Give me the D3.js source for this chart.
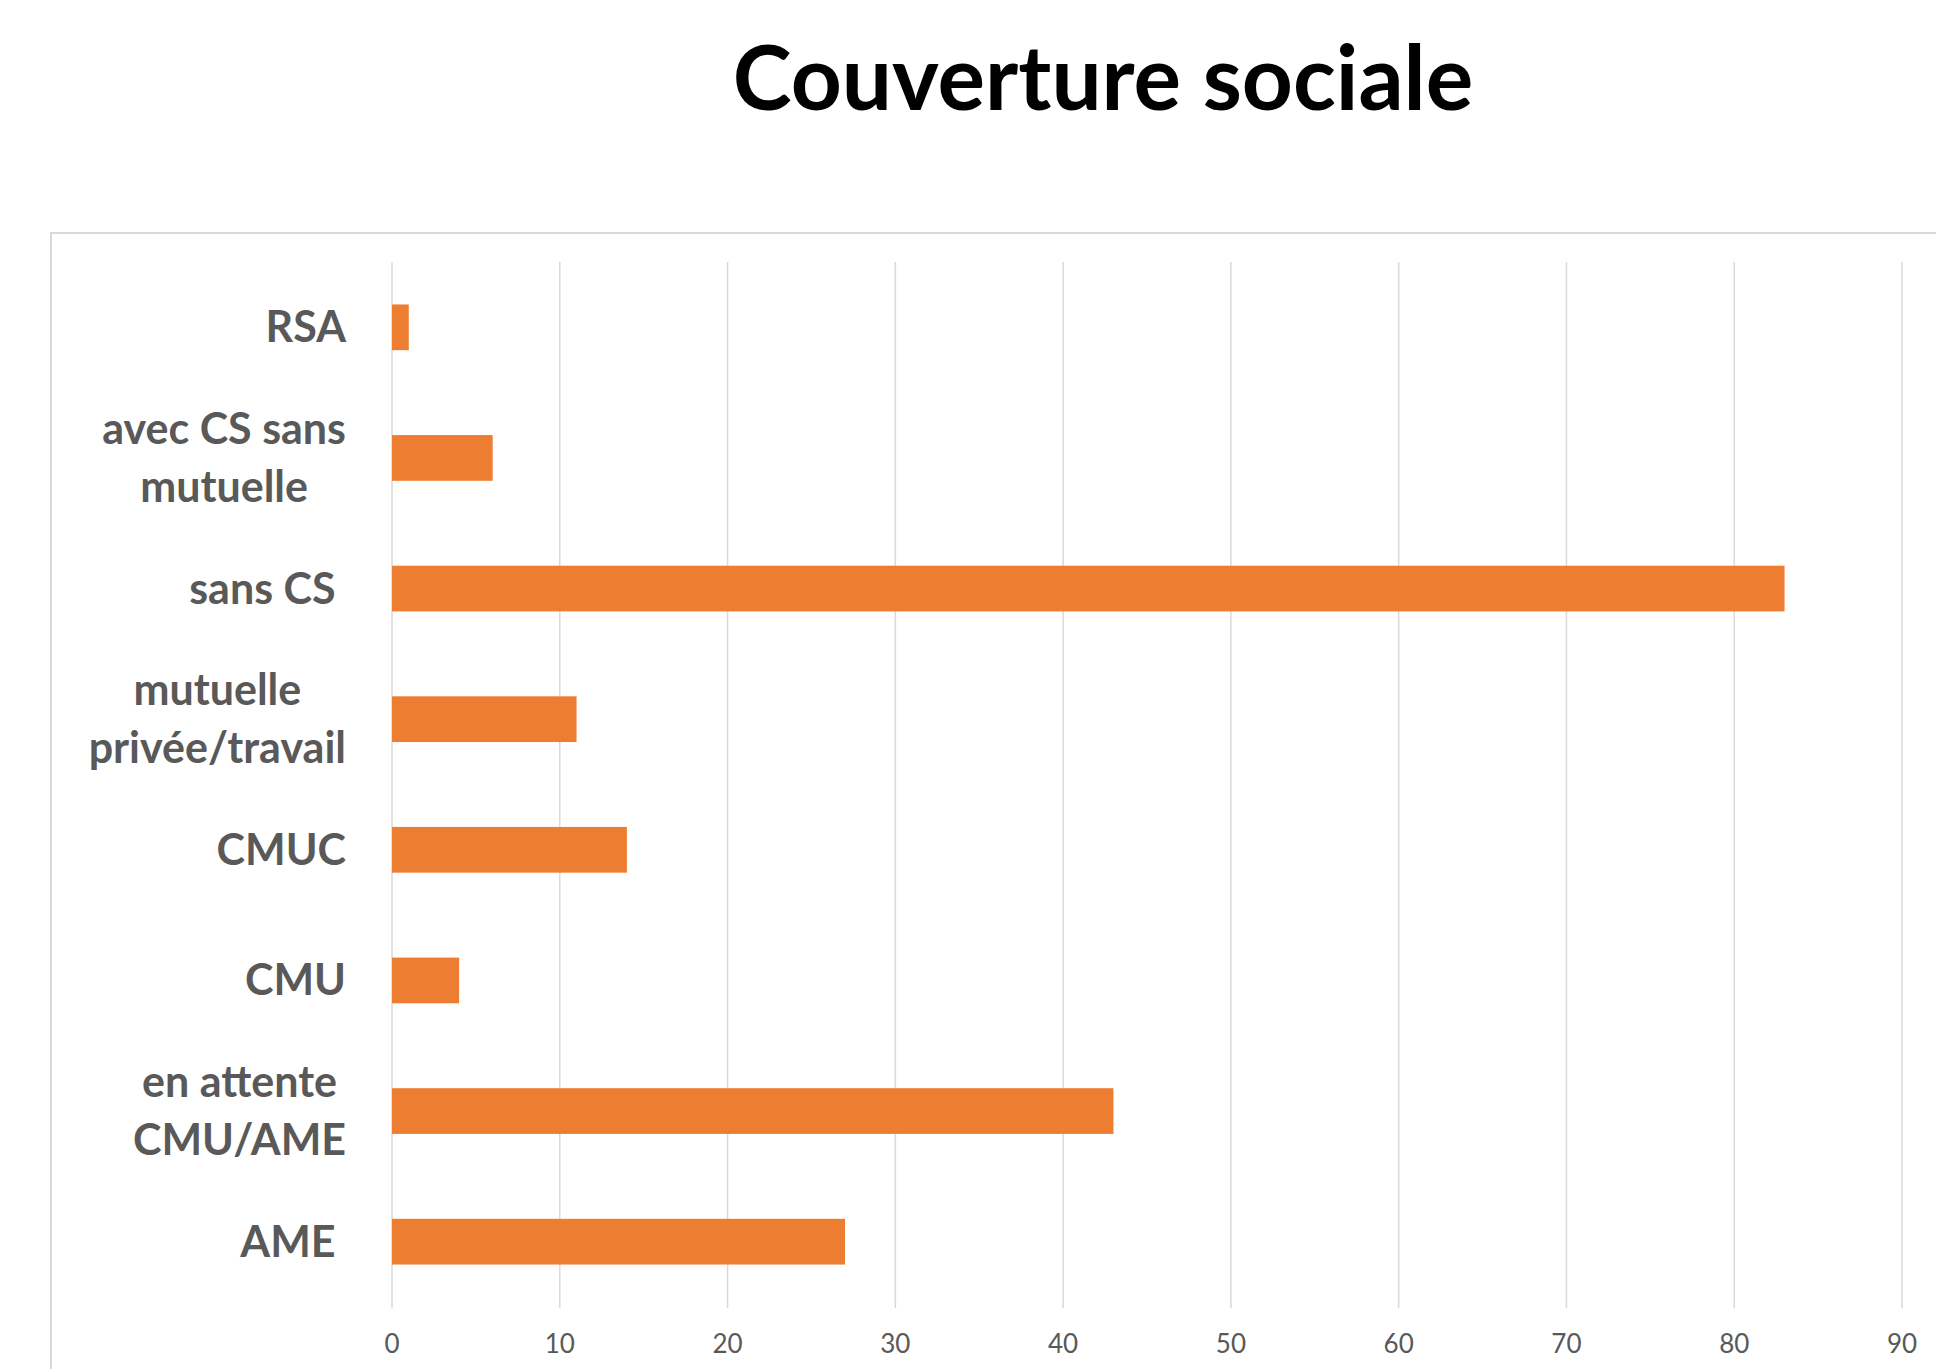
<!DOCTYPE html>
<html>
<head>
  <meta charset="utf-8">
  <title>Couverture sociale</title>
  <style>
    body { margin: 0; background: #fff; }
    text { font-family: Lato, "Open Sans", sans-serif; }
    .grid line { stroke: #d9d9d9; stroke-width: 1.5px; }
    .cat-label { fill: #595959; font-weight: bold; font-size: 43px; white-space: pre; }
    .tick-label { fill: #595959; font-size: 26px; }
  </style>
</head>
<body>
  <svg id="chart" width="1936" height="1369"></svg>

  <script src="https://d3js.org/d3.v7.min.js"></script>
  <script>
    // Data
    const categories = ["RSA", "avec CS sans mutuelle", "sans CS", "mutuelle privée/travail",
                        "CMUC", "CMU", "en attente CMU/AME", "AME"];
    const labelLines = [["RSA"], ["avec CS sans", "mutuelle"], ["sans CS "], ["mutuelle", "privée/travail"],
                        ["CMUC"], ["CMU"], ["en attente", "CMU/AME"], ["AME "]];
    const values = [1, 6, 83, 11, 14, 4, 43, 27];
    const xTicks = [0, 10, 20, 30, 40, 50, 60, 70, 80, 90];

    const svg = d3.select("#chart");

    // Outer chart frame (cut off at the right and bottom)
    svg.append("path")
      .attr("d", "M51,1369 V233 H1936")
      .attr("fill", "none")
      .attr("stroke", "#d9d9d9")
      .attr("stroke-width", 2);

    // Title
    svg.append("text")
      .attr("x", 1103)
      .attr("y", 110)
      .attr("text-anchor", "middle")
      .attr("font-weight", "bold")
      .attr("font-size", 89)
      .attr("fill", "#000")
      .text("Couverture sociale");

    // Scales
    const x = d3.scaleLinear().domain([0, 90]).range([392, 1902]);
    const y = d3.scaleBand().domain(categories).range([262, 1307]).paddingInner(0.65).paddingOuter(0.325);

    // Vertical gridlines
    svg.append("g")
      .attr("class", "grid")
      .selectAll("line")
      .data(xTicks)
      .enter().append("line")
      .attr("x1", d => x(d))
      .attr("x2", d => x(d))
      .attr("y1", 262)
      .attr("y2", 1308);

    // Bars
    svg.selectAll(".bar")
      .data(values)
      .enter().append("rect")
      .attr("class", "bar")
      .attr("x", x(0))
      .attr("y", (d, i) => y(categories[i]))
      .attr("width", d => x(d) - x(0))
      .attr("height", y.bandwidth())
      .attr("fill", "#ed7d31");

    // X tick labels
    svg.selectAll(".tick-label")
      .data(xTicks)
      .enter().append("text")
      .attr("class", "tick-label")
      .attr("x", d => x(d))
      .attr("y", 1353)
      .attr("text-anchor", "middle")
      .text(d => d);

    // Category labels: block right-aligned, lines centred within block
    const labelRight = 346;
    const lineGap = 58;
    labelLines.forEach((lines, i) => {
      const cy = y(categories[i]) + y.bandwidth() / 2;
      const g = svg.append("g");
      const texts = lines.map((ln, j) => g.append("text")
        .attr("class", "cat-label")
        .attr("y", cy + (j - (lines.length - 1) / 2) * lineGap)
        .attr("dy", "0.35em")
        .attr("text-anchor", "middle")
        .text(ln));
      const w = d3.max(texts, t => t.node().getComputedTextLength());
      texts.forEach(t => t.attr("x", labelRight - w / 2));
    });
  </script>
</body>
</html>
